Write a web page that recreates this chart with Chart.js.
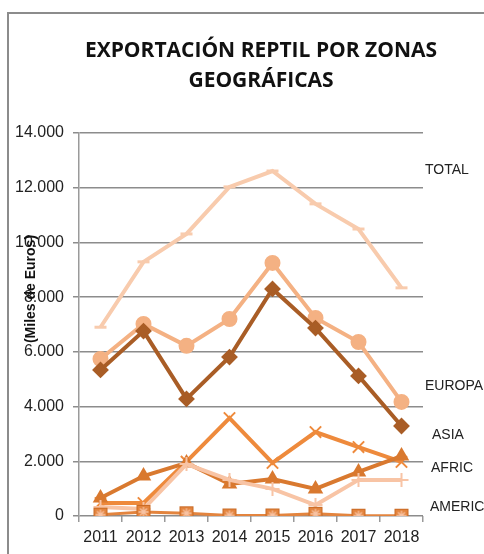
<!DOCTYPE html>
<html lang="es">
<head>
  <meta charset="UTF-8">
  <title>Exportación reptil por zonas geográficas</title>
  <style>
    html, body { margin: 0; padding: 0; background: #fff; }
    #wrap { width: 484px; height: 554px; overflow: hidden; }
  </style>
</head>
<body>
  <div id="wrap">
    <canvas id="exportChart" width="484" height="554"></canvas>
  </div>

  <script src="https://cdn.jsdelivr.net/npm/chart.js"></script>
  <script>
    // Datos (miles de euros)
    const years = ["2011", "2012", "2013", "2014", "2015", "2016", "2017", "2018"];
    const total   = [6900, 9290, 10310, 12030, 12610, 11410, 10490, 8340];
    const europa  = [5740, 7020, 6220, 7200, 9250, 7240, 6360, 4170];
    const asia    = [5340, 6760, 4280, 5810, 8300, 6870, 5120, 3290];
    const africa  = [660, 1460, 1940, 1170, 1350, 990, 1610, 2190];
    const america = [475, 475, 1985, 3580, 1940, 3070, 2520, 1975];
    const oceania = [330, 255, 1900, 1320, 990, 400, 1320, 1320];
    const otros   = [50, 150, 100, 20, 20, 80, 10, 10];
    const yTicks  = [0, 2000, 4000, 6000, 8000, 10000, 12000, 14000];

    // Etiquetas de texto a la derecha (valor del eje y donde van)
    const sideLabels      = ["TOTAL", "EUROPA", "ASIA", "AFRIC", "AMERIC"];
    const sideLabelValues = [12650, 4750, 2960, 1755, 330];

    // marcador cuadrado con asterisco
    function squareStar() {
      const c = document.createElement("canvas");
      c.width = 16; c.height = 16;
      const g = c.getContext("2d");
      g.fillStyle = "#E3843E";
      g.fillRect(1, 1, 14, 14);
      g.strokeStyle = "#C96A25";
      g.lineWidth = 1;
      g.strokeRect(1.5, 1.5, 13, 13);
      g.strokeStyle = "#F8C4A5";
      g.lineWidth = 1.3;
      g.beginPath();
      g.moveTo(8, 3); g.lineTo(8, 13);
      g.moveTo(3, 8); g.lineTo(13, 8);
      g.moveTo(4.5, 4.5); g.lineTo(11.5, 11.5);
      g.moveTo(11.5, 4.5); g.lineTo(4.5, 11.5);
      g.stroke();
      return c;
    }

    function serie(label, data, color, style, radius, extra) {
      return Object.assign({
        label: label,
        data: data,
        borderColor: color,
        backgroundColor: color,
        borderWidth: 4,
        pointStyle: style,
        pointRadius: radius,
        pointBorderWidth: 2,
        pointBorderColor: color,
        pointBackgroundColor: color,
        tension: 0,
      }, extra || {});
    }

    const decorPlugin = {
      id: "decor",
      beforeDraw(chart) {
        const ctx = chart.ctx;
        ctx.save();
        ctx.strokeStyle = "#8c8c8c";
        ctx.lineWidth = 2;
        ctx.beginPath();
        ctx.moveTo(8, 600);
        ctx.lineTo(8, 13);
        ctx.lineTo(600, 13);
        ctx.stroke();
        ctx.restore();
      },
      afterDraw(chart) {
        const ctx = chart.ctx;
        const area = chart.chartArea;
        const y = chart.scales.y;
        ctx.save();
        // titulo
        ctx.fillStyle = "#111";
        ctx.font = "bold 21px 'Open Sans'";
        ctx.textAlign = "center";
        ctx.textBaseline = "middle";
        ctx.fillText("EXPORTACIÓN REPTIL POR ZONAS", 261, 51);
        ctx.fillText("GEOGRÁFICAS", 261, 81);

        // titulo del eje
        ctx.save();
        ctx.translate(31, 289);
        ctx.rotate(-Math.PI / 2);
        ctx.font = "bold 14px 'Liberation Sans'";
        ctx.fillText("(Miles de Euros)", 0, 0);
        ctx.restore();

        // etiquetas de series
        const dx = [2, 2, 9, 8, 7];
        ctx.font = "14px 'Liberation Sans'";
        ctx.fillStyle = "#222";
        ctx.textAlign = "left";
        sideLabels.forEach((t, i) => {
          ctx.fillText(t, area.right + dx[i], y.getPixelForValue(sideLabelValues[i]));
        });
        ctx.restore();
      }
    };

    const chart = new Chart(document.getElementById("exportChart"), {
      type: "line",
      data: {
        labels: years,
        datasets: [
          serie("OTROS", otros, "#E3843E", squareStar(), 8, { borderWidth: 3 }),
          serie("OCEANIA", oceania, "#F8C4A5", "cross", 7, { pointBorderWidth: 2 }),
          serie("AFRICA", africa, "#D9792F", "triangle", 7),
          serie("AMERICA", america, "#EE8A3C", "crossRot", 8, { pointBorderWidth: 2 }),
          serie("ASIA", asia, "#A95D26", "rectRot", 7),
          serie("EUROPA", europa, "#F4B183", "circle", 7),
          serie("TOTAL", total, "#F8CBAD", "line", 6, { pointBorderWidth: 3 }),
        ],
      },
      options: {
        responsive: false,
        devicePixelRatio: 1,
        animation: false,
        layout: { padding: { top: 133, right: 61, bottom: 0, left: 0 } },
        plugins: {
          legend: { display: false },
          title: { display: false },
          tooltip: { enabled: false },
        },
        scales: {
          x: {
            offset: true,
            grid: {
              offset: true,
              drawOnChartArea: false,
              drawTicks: true,
              tickLength: 6,
              color: "#9a9a9a",
              lineWidth: 1.5,
            },
            border: { display: false },
            ticks: {
              color: "#222",
              font: { family: "'Liberation Sans'", size: 16 },
              padding: 6,
              maxRotation: 0,
            },
            afterFit(scale) { scale.height = 38; },
          },
          y: {
            min: 0,
            max: 14000,
            afterBuildTicks(scale) {
              scale.ticks = yTicks.map(v => ({ value: v }));
            },
            grid: {
              color: "#8c8c8c",
              lineWidth: 1.5,
              tickLength: 6,
            },
            border: { color: "#9a9a9a", width: 1.5 },
            ticks: {
              color: "#222",
              font: { family: "'Liberation Sans'", size: 16 },
              padding: 9,
              callback: v => v.toLocaleString("de-DE"),
            },
            afterFit(scale) { scale.width = 79; },
          },
        },
      },
      plugins: [decorPlugin],
    });
  </script>
</body>
</html>
